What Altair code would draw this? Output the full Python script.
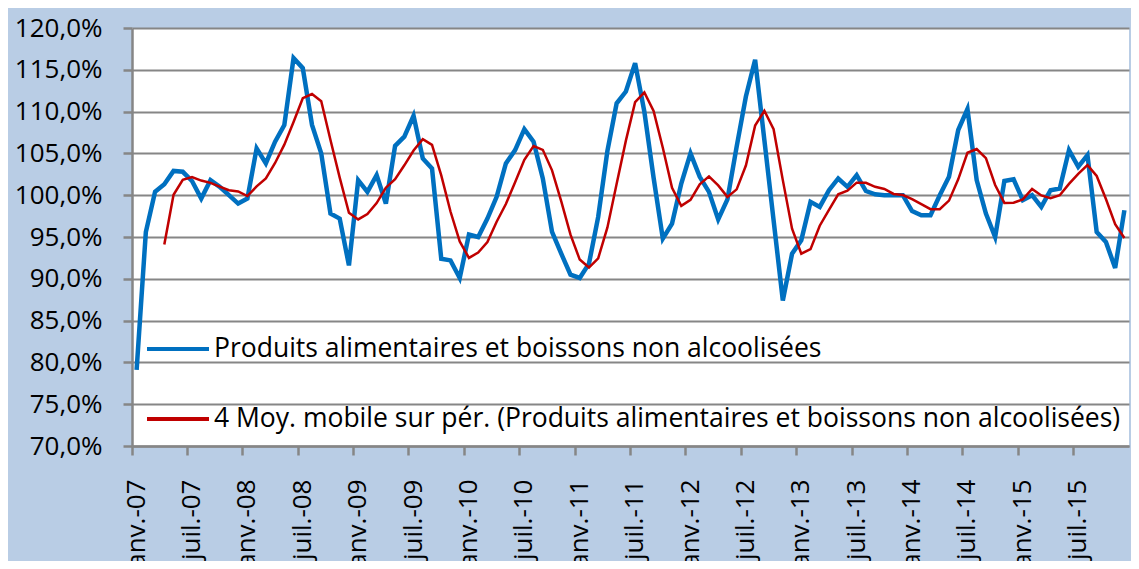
import altair as alt
import pandas as pd

# ---- data -------------------------------------------------------------
MOIS = ["janv.", "févr.", "mars", "avr.", "mai", "juin",
        "juil.", "août", "sept.", "oct.", "nov.", "déc."]
ANNEES = ["07", "08", "09", "10", "11", "12", "13", "14", "15"]
mois_labels = [f"{m}-{a}" for a in ANNEES for m in MOIS]

valeurs = [
    79.1, 95.6, 100.4, 101.3, 102.9, 102.8, 101.7, 99.6, 101.8, 101.0, 100.0, 99.0,
    99.6, 105.6, 103.8, 106.4, 108.4, 116.4, 115.2, 108.4, 105.0, 97.8, 97.2, 91.6,
    101.8, 100.4, 102.4, 99.0, 105.9, 107.0, 109.5, 104.4, 103.2, 92.4, 92.2, 90.1,
    95.3, 95.0, 97.2, 99.8, 103.8, 105.4, 107.9, 106.4, 102.0, 95.6, 93.0, 90.5,
    90.1, 91.8, 97.4, 105.3, 111.0, 112.4, 115.8, 110.0, 102.1, 94.8, 96.6, 101.4,
    105.0, 102.2, 100.4, 97.1, 99.5, 105.8, 111.8, 116.2, 106.6, 97.0, 87.4, 93.0,
    94.6, 99.2, 98.6, 100.6, 102.0, 101.0, 102.4, 100.5, 100.1, 100.0, 100.0, 100.0,
    98.1, 97.6, 97.6, 100.0, 102.2, 107.8, 110.3, 101.8, 97.8, 95.0, 101.7, 101.9,
    99.4, 100.0, 98.6, 100.6, 100.8, 105.4, 103.4, 104.8, 95.6, 94.4, 91.3, 98.2,
]

SERIE_1 = "Produits alimentaires et boissons non alcoolisées"
SERIE_2 = "4 Moy. mobile sur pér. (Produits alimentaires et boissons non alcoolisées)"
PERIODE_MOYENNE = 4

etiquettes_x = [m for m in mois_labels if m.startswith("janv.") or m.startswith("juil.")]
graduations_y = [70, 75, 80, 85, 90, 95, 100, 105, 110, 115, 120]

df = pd.DataFrame({"mois": mois_labels, "ordre": list(range(len(mois_labels))), "valeur": valeurs})

# ---- style --------------------------------------------------------------
FONT = "Open Sans"
GRIS = "#868686"
BLEU = "#0070C0"
ROUGE = "#C00000"

x_enc = alt.X(
    "mois:O",
    sort=mois_labels,
    scale=alt.Scale(type="band", paddingInner=0, paddingOuter=0),
    axis=alt.Axis(
        values=etiquettes_x, bandPosition=0, labelAngle=-90, title=None, grid=False,
        domainColor=GRIS, domainWidth=2.5, tickColor=GRIS, tickWidth=2.5, tickSize=9,
        labelPadding=24, labelFont=FONT, labelFontSize=26, labelColor="black",
        labelOverlap=False,
    ),
)
y_enc = alt.Y(
    "valeur:Q",
    scale=alt.Scale(domain=[70, 120], nice=False, zero=False),
    axis=alt.Axis(
        values=graduations_y, title=None,
        labelExpr="replace(format(datum.value, '.1f'), '.', ',') + '%'",
        domainColor=GRIS, domainWidth=2.5, tickColor=GRIS, tickWidth=2.5, tickSize=9,
        gridColor=GRIS, gridWidth=2, labelPadding=21,
        labelFont=FONT, labelFontSize=26, labelColor="black",
    ),
)
color_enc = alt.Color(
    "serie:N",
    scale=alt.Scale(domain=[SERIE_1, SERIE_2], range=[BLEU, ROUGE]),
    legend=alt.Legend(
        title=None, orient="none", legendX=13, legendY=288, direction="vertical",
        symbolType="stroke", symbolSize=3844, symbolStrokeWidth=4,
        labelFont=FONT, labelFontSize=26.5, labelColor="black", labelLimit=1500,
        labelOffset=3, rowPadding=23, padding=0,
    ),
)

base = alt.Chart(df)

serie = base.transform_calculate(serie=f"'{SERIE_1}'").mark_line(
    strokeWidth=4.5
).encode(x=x_enc, y=y_enc, color=color_enc)

moyenne = (
    base.transform_window(
        moy="mean(valeur)", rang="row_number()",
        frame=[-(PERIODE_MOYENNE - 1), 0], sort=[alt.SortField("ordre")],
    )
    .transform_filter(f"datum.rang >= {PERIODE_MOYENNE}")
    .transform_calculate(valeur="datum.moy", serie=f"'{SERIE_2}'")
    .mark_line(strokeWidth=2.5)
    .encode(x=x_enc, y=y_enc, color=color_enc)
)

chart = (
    alt.layer(serie, moyenne)
    .properties(
        width=997, height=418,
        autosize=alt.AutoSizeParams(type="none"),
        padding={"left": 124, "top": 20, "right": 2, "bottom": 115},
        background="#B9CDE5",
    )
    .configure_view(fill="white", strokeWidth=0)
)

chart.save("out.html", embed_options={"renderer": "svg", "actions": False})
